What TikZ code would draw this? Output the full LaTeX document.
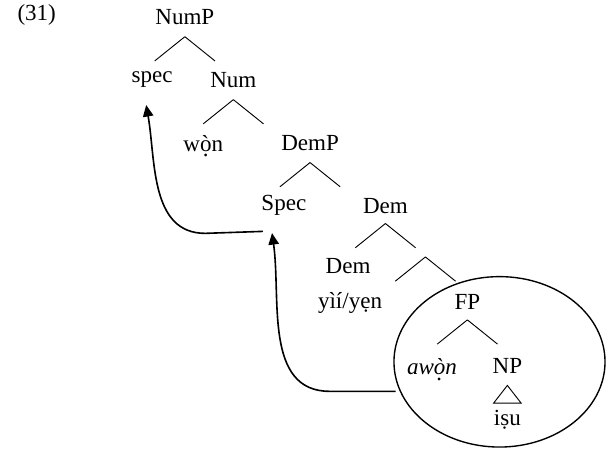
\documentclass[tikz,border=0pt]{standalone}
\usepackage{fontspec}
\setmainfont{Liberation Serif}
\usetikzlibrary{positioning, arrows.meta, shapes.geometric}

% two legs of a branching node, hanging below its label
\newcommand{\legs}[1]{\draw (#1) -- ++(-0.46,-0.37) (#1) -- ++(0.46,-0.37);}
% dot under a letter that already carries an accent
\newcommand{\ud}[1]{{\oalign{#1\crcr\hidewidth.\hidewidth}}}

\begin{document}
\begin{tikzpicture}[every node/.style={font=\fontsize{10}{12}\selectfont, inner sep=1pt},
		move/.style={thick, line width=0.7pt, -{Triangle[length=5pt,width=4.5pt]}}]
	\useasboundingbox (0,0) rectangle (9.26,-6.88);
	\node (exno) at (0.56,-0.23) {(31)};
	% NumP level
	\node (nump) at (2.82,-0.26) {NumP};
	\node (spec) at (2.32,-1.22) {spec};
	\node (num) at (3.56,-1.22) {Num};
	% DemP level
	\node (won) at (3.10,-2.23) {w\ud{ò}n};
	\node (demp) at (4.73,-2.18) {DemP};
	\node (specd) at (4.33,-3.14) {Spec};
	\node (dem) at (5.88,-3.14) {Dem};
	\node (demh) at (5.31,-4.06) {Dem};
	\node (yii) at (5.34,-4.62) {yìí/yẹn};
	\coordinate (demx) at (6.49,-3.92);
	% FP inside the circle
	\node (fp) at (7.13,-4.61) {FP};
	\node (awon) at (6.59,-5.64) {\itshape aw\ud{ò}n};
	\node (np) at (7.74,-5.59) {NP};
	\node (isu) at (7.74,-6.41) {iṣu};
	\node[draw, thick, line width=0.6pt, ellipse, inner sep=0pt, minimum width=3.22cm, minimum height=2.6cm] (fpcirc) at (7.62,-5.52) {};
	% branches
	\legs{[yshift=-0.30cm]nump.center}
	\legs{[yshift=-0.30cm]num.center}
	\legs{[yshift=-0.30cm]demp.center}
	\legs{[yshift=-0.27cm]dem.center}
	\legs{demx}
	\legs{[yshift=-0.27cm]fp.center}
	\draw ([yshift=-0.29cm]np.center) -- ++(-0.21,-0.27) -- ++(0.42,0) -- cycle;
	% movement arrows
	\coordinate (hooka) at (5.03,-5.97);
	\coordinate (hookb) at (3.13,-3.56);
	\coordinate (taila) at (fpcirc.west |- hooka);
	\coordinate (tailb) at (4.01,-3.53);
	\draw[move] ([xshift=1pt]taila) -- (hooka) to[out=180, in=-82] ([xshift=-0.18cm, yshift=-0.22cm]specd.south);
	\draw[move] (tailb) -- (hookb) to[out=180, in=-80] ([xshift=-0.09cm, yshift=-0.22cm]spec.south);
\end{tikzpicture}
\end{document}
